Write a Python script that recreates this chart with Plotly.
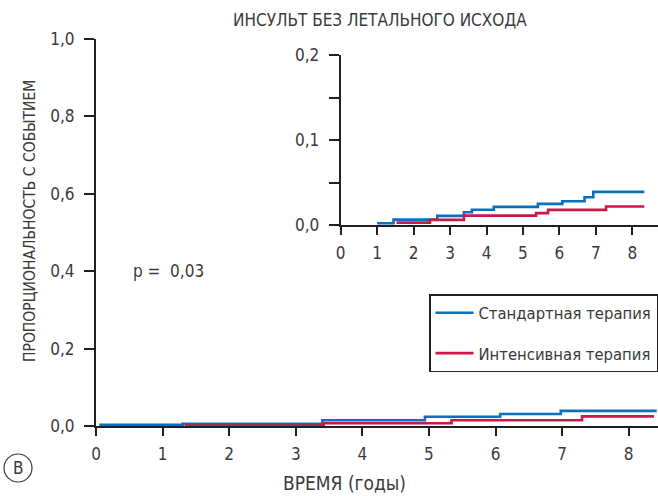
import plotly.graph_objects as go

# ---- data ----
years_ticks = [0, 1, 2, 3, 4, 5, 6, 7, 8]
main_y_ticks = [0.0, 0.2, 0.4, 0.6, 0.8, 1.0]
inset_y_ticks = [0.0, 0.05, 0.1, 0.15, 0.2]
inset_y_ticktext = ["0,0", "", "0,1", "", "0,2"]

series_names = ["Стандартная терапия", "Интенсивная терапия"]

# main panel
main_std_t = [0.05, 1.30, 3.40, 4.94, 6.07, 6.98, 8.42]
main_std_p = [0.003, 0.006, 0.015, 0.024, 0.031, 0.039, 0.039]
main_int_t = [1.33, 3.42, 5.34, 7.30, 8.38]
main_int_p = [0.001, 0.007, 0.015, 0.025, 0.025]

# inset panel
inset_std_t = [1.0, 1.45, 2.65, 3.38, 3.60, 4.20, 5.41, 6.08, 6.69, 6.93, 8.33]
inset_std_p = [0.002, 0.0063, 0.0107, 0.015, 0.018, 0.0213, 0.0249, 0.028, 0.0327, 0.039, 0.039]
inset_int_t = [1.53, 2.45, 3.38, 5.36, 5.69, 7.28, 8.33]
inset_int_p = [0.0028, 0.006, 0.011, 0.014, 0.0178, 0.0217, 0.0217]

# ---- style ----
W, H = 658, 496
ML, MR, MT, MB = 96, 0, 39, 70
FONT = "DejaVu Sans Condensed, Liberation Sans Narrow, Roboto, sans-serif"
FS = 17
TXT = "#3a3a3a"
AX = "#231f20"
BLUE = "#0a70bb"
RED = "#c9184a"


def px2paper(x, y):
    return (x - ML) / (W - ML - MR), (H - MB - y) / (H - MB - MT)


fig = go.Figure()
fig.add_trace(go.Scatter(x=main_std_t, y=main_std_p, mode="lines", line=dict(color=BLUE, width=2.6, shape="hv"),
                         name=series_names[0], legendgroup="a", xaxis="x", yaxis="y"))
fig.add_trace(go.Scatter(x=main_int_t, y=main_int_p, mode="lines", line=dict(color=RED, width=2.6, shape="hv"),
                         name=series_names[1], legendgroup="b", xaxis="x", yaxis="y"))
fig.add_trace(go.Scatter(x=inset_std_t, y=inset_std_p, mode="lines", line=dict(color=BLUE, width=2.6, shape="hv"),
                         showlegend=False, xaxis="x2", yaxis="y2"))
fig.add_trace(go.Scatter(x=inset_int_t, y=inset_int_p, mode="lines", line=dict(color=RED, width=2.6, shape="hv"),
                         showlegend=False, xaxis="x2", yaxis="y2"))

ix0, iy0 = px2paper(340.7, 225)
ix1, iy1 = px2paper(658, 55)

axis_common = dict(showline=True, linecolor=AX, linewidth=2, ticks="outside", tickcolor=AX,
                   tickwidth=1.5, showgrid=False, zeroline=False, automargin=False,
                   tickfont=dict(family=FONT, size=FS, color=TXT))

fig.update_layout(
    width=W, height=H, margin=dict(l=ML, r=MR, t=MT, b=MB, autoexpand=False),
    paper_bgcolor="white", plot_bgcolor="white", separators=", ",
    font=dict(family=FONT, color=TXT, size=FS),
    xaxis=dict(range=[0, 8.44], tickvals=years_ticks, ticklen=8, ticklabelstandoff=4, **axis_common),
    yaxis=dict(range=[0, 1.0], tickvals=main_y_ticks, tickformat=".1f", ticklen=10, ticklabelstandoff=6,
               **axis_common),
    xaxis2=dict(domain=[ix0, ix1], range=[0, (658 - 340.7) / 36.45], tickvals=years_ticks, ticklen=8,
                anchor="y2", ticklabelstandoff=4, **axis_common),
    yaxis2=dict(domain=[iy0, iy1], range=[0, 0.2], tickvals=inset_y_ticks, ticktext=inset_y_ticktext,
                ticklen=10, anchor="x2", ticklabelstandoff=6, **axis_common),
    legend=dict(x=px2paper(429, 0)[0], y=px2paper(0, 294)[1], xanchor="left", yanchor="top",
                bordercolor=AX, borderwidth=1.5, bgcolor="white", tracegroupgap=16,
                itemwidth=38, font=dict(family=FONT, size=16.5, color=TXT)),
)

annots = [
    ("ИНСУЛЬТ БЕЗ ЛЕТАЛЬНОГО ИСХОДА", 380, 20, 0, FS),
    ("ВРЕМЯ (годы)", 344, 483, 0, 19),
    ("ПРОПОРЦИОНАЛЬНОСТЬ С СОБЫТИЕМ", 30, 221, -90, 15.5),
    ("p =  0,03", 168, 271, 0, FS),
    ("В", 18, 468, 0, FS),
]
for text, x, y, ang, fs in annots:
    px, py = px2paper(x, y)
    fig.add_annotation(text=text, x=px, y=py, xref="paper", yref="paper", showarrow=False,
                       textangle=ang, font=dict(family=FONT, size=fs, color=TXT),
                       xanchor="center", yanchor="middle")

c0x, c0y = px2paper(4, 482)
c1x, c1y = px2paper(32, 454)
fig.add_shape(type="circle", xref="paper", yref="paper", x0=c0x, y0=c0y, x1=c1x, y1=c1y,
              line=dict(color=TXT, width=1.2))

fig.write_html("out.html", config={"displayModeBar": False},
               post_script="document.body.style.margin='0';document.body.style.padding='0';")
